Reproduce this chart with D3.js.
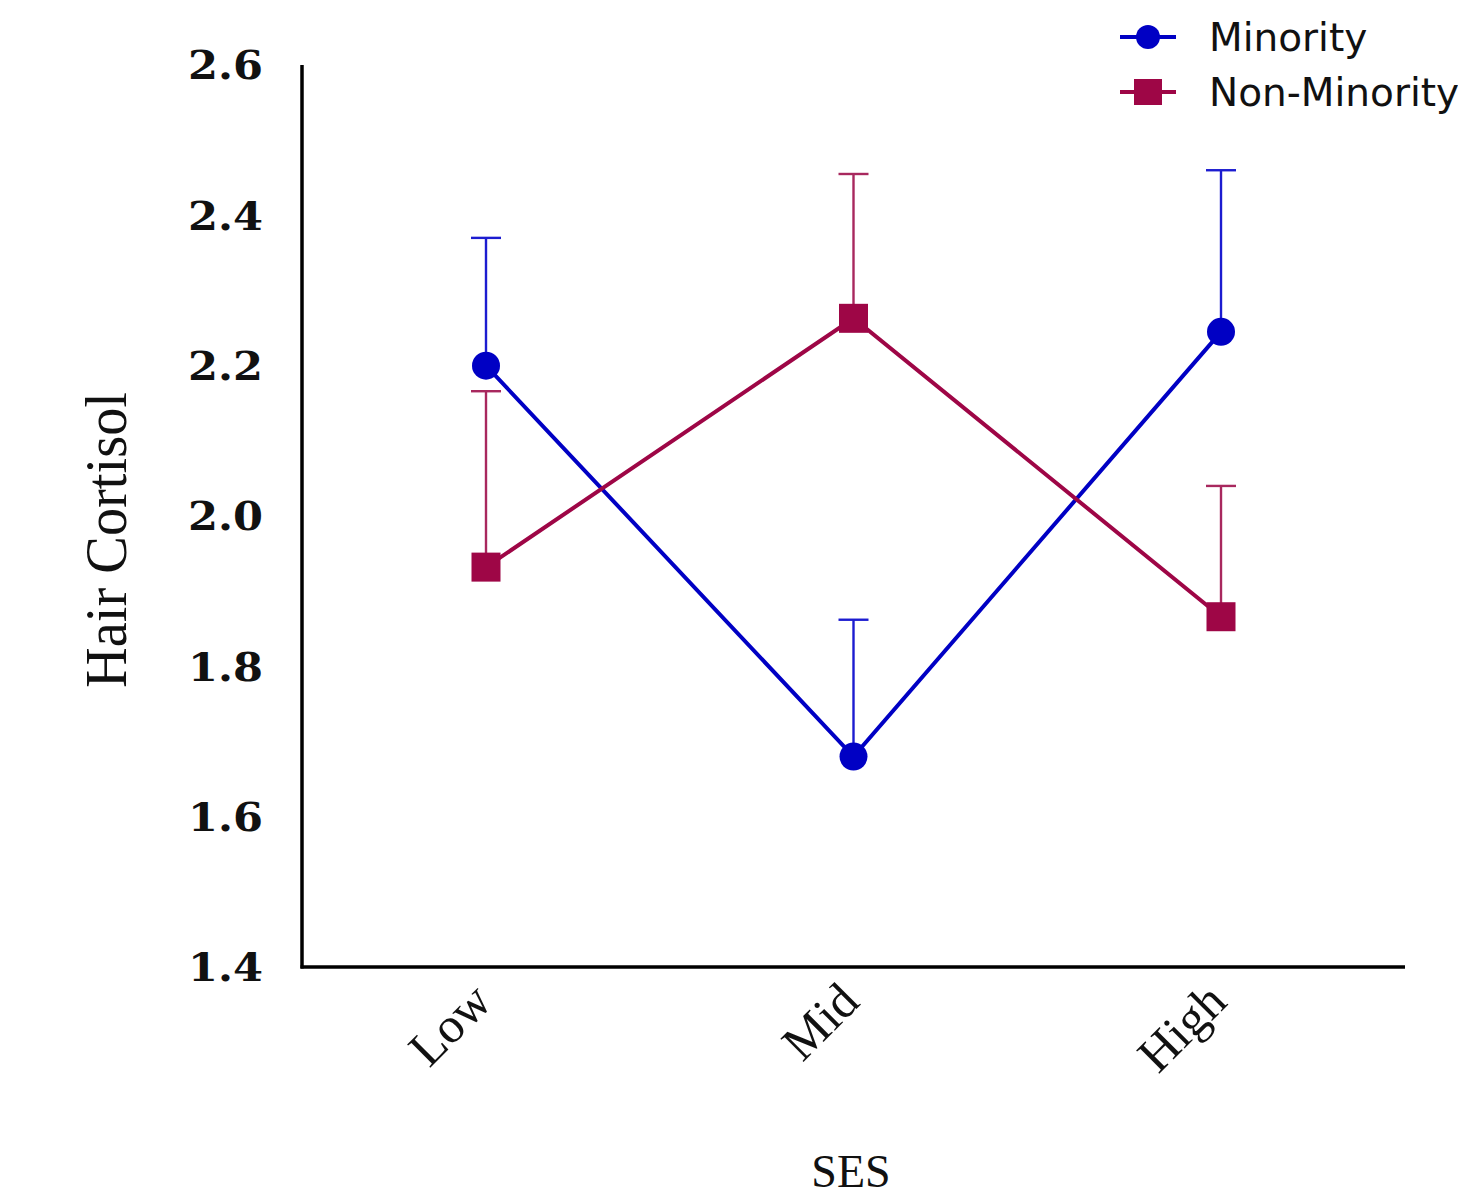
<!DOCTYPE html>
<html><head><meta charset="utf-8">
<script src="https://cdn.jsdelivr.net/npm/d3@7"></script>
<style>body{margin:0;background:#fff}</style>
</head><body>
<svg id="c" width="1458" height="1197"></svg>
<script>
const categories = ["Low", "Mid", "High"];
const seriesNames = ["Minority", "Non-Minority"];
const minorityMean = [2.20, 1.68, 2.245];
const minorityUpper = [2.37, 1.862, 2.46];
const nonMinorityMean = [1.932, 2.263, 1.866];
const nonMinorityUpper = [2.166, 2.455, 2.04];
const yTicks = [1.4, 1.6, 1.8, 2.0, 2.2, 2.4, 2.6];

const svg = d3.select("#c");
const x = d3.scalePoint().domain(categories).range([486, 1221]);
const y = d3.scaleLinear().domain([1.4, 2.6]).range([967, 65]);

const series = [
  {name: seriesNames[0], mean: minorityMean, upper: minorityUpper, color: "#0000c4", ebColor: "#1c1cd0", shape: "circle"},
  {name: seriesNames[1], mean: nonMinorityMean, upper: nonMinorityUpper, color: "#9e0646", ebColor: "#a8285e", shape: "square"}
];

svg.append("line").attr("x1", 302).attr("x2", 302).attr("y1", y(2.6)).attr("y2", y(1.4)+1.5)
  .attr("stroke", "#000").attr("stroke-width", 3.5);
svg.append("line").attr("x1", 300.5).attr("x2", 1405).attr("y1", y(1.4)).attr("y2", y(1.4))
  .attr("stroke", "#000").attr("stroke-width", 3.5);

svg.selectAll(".yt").data(yTicks).enter().append("text")
  .attr("x", 263).attr("y", d => y(d)).attr("dy", "0.37em")
  .attr("text-anchor", "end")
  .attr("font-family", "DejaVu Serif").attr("font-weight", "bold").attr("font-size", 39)
  .attr("textLength", 75).attr("lengthAdjust", "spacingAndGlyphs")
  .attr("fill", "#111")
  .text(d => d.toFixed(1));

svg.selectAll(".xt").data(categories).enter().append("text")
  .attr("transform", d => `translate(${x(d)+8},${1004}) rotate(-45)`)
  .attr("text-anchor", "end")
  .attr("font-family", "Liberation Serif").attr("font-size", 50)
  .attr("fill", "#111")
  .text(d => d);

svg.append("text").attr("transform", "translate(126,540) rotate(-90)")
  .attr("text-anchor", "middle")
  .attr("font-family", "Liberation Serif").attr("font-size", 60)
  .attr("textLength", 296).attr("lengthAdjust", "spacingAndGlyphs")
  .attr("fill", "#111").text("Hair Cortisol");
svg.append("text").attr("x", 851).attr("y", 1187)
  .attr("text-anchor", "middle")
  .attr("font-family", "Liberation Serif").attr("font-size", 46)
  .attr("fill", "#111").text("SES");

series.forEach(s => {
  const g = svg.append("g");
  categories.forEach((c, i) => {
    g.append("line").attr("x1", x(c)).attr("x2", x(c)).attr("y1", y(s.mean[i])).attr("y2", y(s.upper[i]))
      .attr("stroke", s.ebColor).attr("stroke-width", 2.4);
    g.append("line").attr("x1", x(c)-15).attr("x2", x(c)+15).attr("y1", y(s.upper[i])).attr("y2", y(s.upper[i]))
      .attr("stroke", s.ebColor).attr("stroke-width", 2.4);
  });
  const line = d3.line().x((d, i) => x(categories[i])).y(d => y(d));
  g.append("path").attr("d", line(s.mean)).attr("fill", "none")
    .attr("stroke", s.color).attr("stroke-width", 4);
  s.mean.forEach((v, i) => {
    if (s.shape === "circle") {
      g.append("circle").attr("cx", x(categories[i])).attr("cy", y(v)).attr("r", 14).attr("fill", s.color);
    } else {
      g.append("rect").attr("x", x(categories[i])-14.5).attr("y", y(v)-14.5).attr("width", 29).attr("height", 29).attr("fill", s.color);
    }
  });
});

const leg = svg.append("g");
series.forEach((s, i) => {
  const ly = 37 + i*55;
  leg.append("line").attr("x1", 1120).attr("x2", 1176).attr("y1", ly).attr("y2", ly)
    .attr("stroke", s.color).attr("stroke-width", 4);
  if (s.shape === "circle") leg.append("circle").attr("cx", 1148).attr("cy", ly).attr("r", 12).attr("fill", s.color);
  else leg.append("rect").attr("x", 1134).attr("y", ly-13).attr("width", 28).attr("height", 26).attr("fill", s.color);
  leg.append("text").attr("x", 1209).attr("y", ly).attr("dy", "0.36em")
    .attr("font-family", "DejaVu Sans").attr("font-size", 39).attr("fill", "#111").text(s.name);
});
</script>
</body></html>
